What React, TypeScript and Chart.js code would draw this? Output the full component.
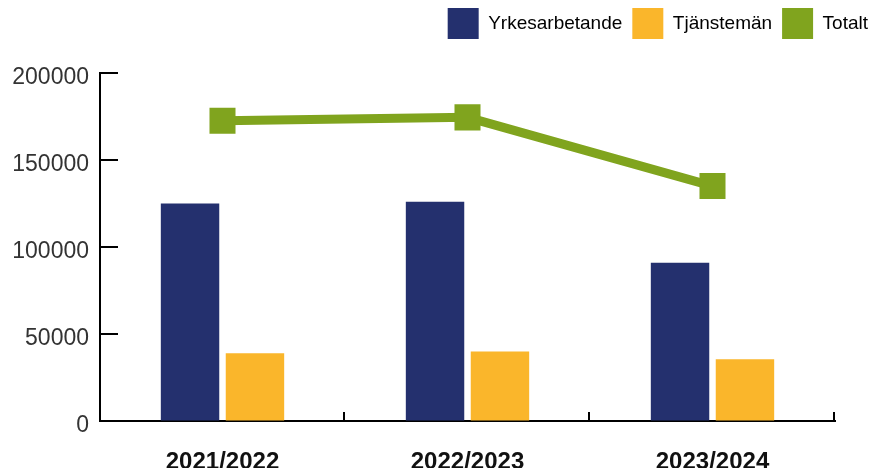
import React, { useEffect, useRef } from "react";
import { Chart, registerables } from "chart.js";

Chart.register(...registerables);

const categories = ["2021/2022", "2022/2023", "2023/2024"];
const yrkesarbetande = [125000, 126000, 91000];
const tjanstemannen = [39000, 40000, 35500];
const totalt = [172500, 174500, 135000];
const seriesNames = ["Yrkesarbetande", "Tjänstemän", "Totalt"];
const seriesColors = ["#24306E", "#FAB62B", "#80A41E"];
const yTicks = [0, 50000, 100000, 150000, 200000];

const inwardTicks = {
  id: "inwardTicks",
  afterDraw(chart: any) {
    const { ctx, chartArea, scales } = chart;
    const y = scales.y;
    ctx.save();
    ctx.strokeStyle = "#000";
    ctx.lineWidth = 2;
    ctx.beginPath();
    for (const v of yTicks) {
      const py = Math.round(y.getPixelForValue(v));
      ctx.moveTo(chartArea.left, py);
      ctx.lineTo(chartArea.left + 18, py);
    }
    const n = categories.length;
    const w = (chartArea.right - chartArea.left) / n;
    for (let i = 1; i <= n; i++) {
      const px = Math.round(chartArea.left + i * w) - 1;
      ctx.moveTo(px, chartArea.bottom);
      ctx.lineTo(px, chartArea.bottom - 9);
    }
    ctx.stroke();
    ctx.restore();
  },
};

export default function App() {
  const ref = useRef<HTMLCanvasElement>(null);
  useEffect(() => {
    document.body.style.margin = "0";
    const chart = new Chart(ref.current!, {
      type: "bar",
      data: {
        labels: categories,
        datasets: [
          {
            type: "line",
            label: seriesNames[2],
            data: totalt,
            borderColor: seriesColors[2],
            backgroundColor: seriesColors[2],
            borderWidth: 9,
            pointStyle: "rect",
            pointRadius: 18.4,
            pointBorderWidth: 0,
            pointBackgroundColor: seriesColors[2],
            order: 0,
          } as any,
          {
            label: seriesNames[0],
            data: yrkesarbetande,
            backgroundColor: seriesColors[0],
            order: 1,
          },
          {
            label: seriesNames[1],
            data: tjanstemannen,
            backgroundColor: seriesColors[1],
            order: 1,
          },
        ],
      },
      options: {
        animation: false,
        responsive: false,
        layout: { padding: { top: -2, right: 8, left: 0, bottom: 0 } },
        datasets: {
          bar: { categoryPercentage: 0.53, barPercentage: 0.9 },
        },
        plugins: {
          tooltip: { enabled: false },
          title: {
            display: true,
            text: " ",
            weight: 500,
            padding: 0,
            font: { size: 20 },
          } as any,
          legend: {
            position: "top",
            align: "end",
            labels: {
              boxWidth: 31,
              boxHeight: 31,
              padding: 10,
              color: "#666",
              font: { family: "'Liberation Sans', Arial, sans-serif", size: 19 },
              generateLabels: () =>
                seriesNames.map((t, i) => ({
                  text: t,
                  fillStyle: seriesColors[i],
                  strokeStyle: seriesColors[i],
                  lineWidth: 0,
                  hidden: false,
                  datasetIndex: i === 2 ? 0 : i + 1,
                })),
            },
          },
        },
        scales: {
          x: {
            grid: { display: true, drawOnChartArea: false, drawTicks: false },
            border: { display: true, color: "#000", width: 2 },
            ticks: {
              padding: 27,
              color: "#111",
              font: { family: "'Liberation Sans', Arial, sans-serif", size: 24, weight: "bold" },
            },
            afterFit: (s: any) => {
              s.height = 47;
            },
          },
          y: {
            min: 0,
            max: 200000,
            grid: { display: true, drawOnChartArea: false, drawTicks: false },
            border: { display: true, color: "#000", width: 2 },
            ticks: {
              stepSize: 50000,
              padding: 11,
              labelOffset: 5,
              color: "#333",
              font: { family: "'Liberation Sans', Arial, sans-serif", size: 23 },
              callback: (v: any) => String(v),
            },
            afterFit: (s: any) => {
              s.width = 100;
            },
          },
          yR: {
            position: "right",
            display: true,
            grid: { display: false },
            border: { display: false },
            ticks: { display: false },
            afterFit: (s: any) => {
              s.width = 43;
            },
          },
        },
      },
      plugins: [inwardTicks],
    });
    return () => chart.destroy();
  }, []);
  return (
    <div style={{ width: 886, height: 468 }}>
      <canvas ref={ref} width={886} height={468} style={{ display: "block" }} />
    </div>
  );
}
